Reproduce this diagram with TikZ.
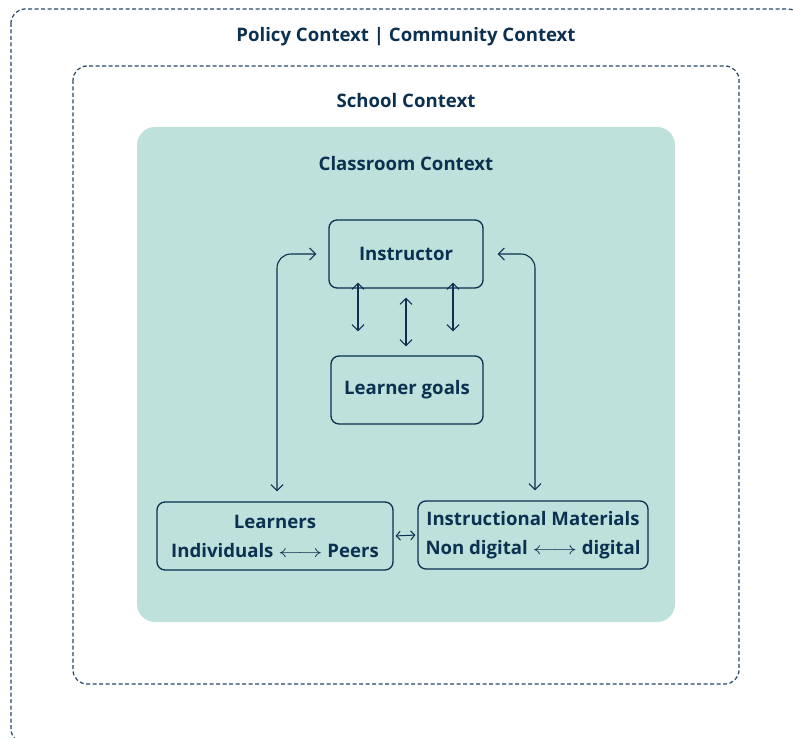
\documentclass[tikz,border=0pt]{standalone}
\usepackage{fontspec}
\setmainfont{Open Sans}
\usetikzlibrary{arrows.meta, positioning}
\definecolor{navy}{HTML}{0B3050}
\definecolor{mint}{HTML}{BEE1DB}
\definecolor{dashblue}{HTML}{25476A}
\newcommand{\diafont}{\fontsize{18.6}{29}\selectfont\bfseries}
\newcommand{\longarr}{\scalebox{1.4}[1]{$\longleftrightarrow$}}
\tikzset{
	box/.style={draw=navy, line width=1.3pt, rounded corners=8pt, minimum height=68pt, align=center, font=\diafont, text=navy, inner sep=2pt},
	ctx/.style={draw=dashblue, dash pattern=on 4pt off 2.5pt, line width=1.2pt, rounded corners=14pt},
	title/.style={font=\diafont, text=navy},
	arr/.style={draw=navy, line width=1.1pt, {Straight Barb[length=6pt,width=12pt]}-{Straight Barb[length=6pt,width=12pt]}},
	smallarr/.style={draw=navy, line width=1pt, {Straight Barb[length=4pt,width=9pt]}-{Straight Barb[length=4pt,width=9pt]}}
}
\begin{document}
\begin{tikzpicture}[x=1pt, y=-1pt]
	\useasboundingbox (0,0) rectangle (793,738);
	%Kontexte
	\draw[ctx] (11,9) rectangle (802,743);
	\draw[ctx] (73,66) rectangle (739,684);
	\fill[mint, rounded corners=18pt] (137,127) rectangle (675,622);
	\node[title] (policy) at (406,37) {Policy Context | Community Context};
	\node[title] (school) at (406,101) {School Context};
	\node[title] (classroom) at (406,164) {Classroom Context};
	%Boxen
	\node[box, minimum width=154pt] (instr) at (406,254) {Instructor};
	\node[box, minimum width=152pt] (goals) at (407,390) {Learner goals};
	\node[box, minimum width=236pt] (learners) at (275,536) {Learners\\Individuals \longarr{} Peers};
	\node[box, minimum width=230pt] (mats) at (533,535) {Instructional Materials\\Non digital \longarr{} digital};
	%Pfeile
	\draw[arr, rounded corners=14pt, shorten <=12pt, shorten >=10pt] (instr.west) -| ([xshift=2pt]learners.north);
	\draw[arr, rounded corners=14pt, shorten <=14pt, shorten >=10pt] (instr.east) -| ([xshift=2pt]mats.north);
	\draw[arr] ([shift={(-48,-6)}]instr.south) -- ([shift={(-49,-24)}]goals.north);
	\draw[arr] ([shift={(0,9)}]instr.south) -- ([shift={(-1,-9)}]goals.north);
	\draw[arr] ([shift={(47,-6)}]instr.south) -- ([shift={(46,-24)}]goals.north);
	\draw[smallarr, shorten <=2pt, shorten >=2pt] (learners.east) -- (mats.west);
\end{tikzpicture}
\end{document}
